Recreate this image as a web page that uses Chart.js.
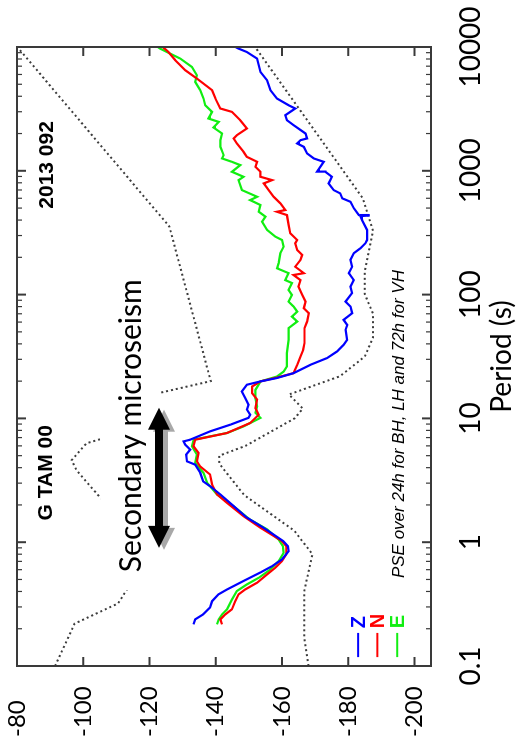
<!DOCTYPE html>
<html>
<head>
<meta charset="utf-8">
<script src="https://cdn.jsdelivr.net/npm/chart.js@4.4.1/dist/chart.umd.min.js"></script>
<style>
  html, body { margin: 0; padding: 0; background: #fff; overflow: hidden; }
  /* the chart is laid out in its own frame (period across, power down) and turned a quarter turn */
  #wrap { position: absolute; left: 0; top: 0; width: 749px; height: 521px;
          transform-origin: 0 0; transform: translate(0, 749px) rotate(-90deg); }
</style>
</head>
<body>
<div id="wrap"><canvas id="psd" width="749" height="521"></canvas></div>
<script>
// tick values
const periodTicks = [0.1, 1, 10, 100, 1000, 10000];
const periodLabels = ['0.1', '1', '10', '100', '1000', '10000'];
const powerTicks = [-80, -100, -120, -140, -160, -180, -200];

// Z component
const zPeriod = [0.217, 0.238, 0.261, 0.297, 0.334, 0.379, 0.415, 0.485, 0.570, 0.640,
  0.725, 0.846, 0.928, 1.02, 1.31, 1.58, 2.01, 2.43, 2.83, 3.10,
  3.65, 4.23, 4.50, 5.10, 5.59, 6.14, 6.52, 6.73, 7.86, 8.90,
  10.1, 10.7, 11.8, 12.9, 14.6, 16.5, 18.7, 19.9, 21.2, 23.2,
  27.1, 30.7, 34.7, 39.3, 43.1, 51.9, 56.9, 62.5, 70.8, 80.0,
  87.8, 103, 116, 131, 149, 168, 191, 216, 237, 260,
  276, 333, 400, 431, 435, 439, 498, 562, 599, 657,
  699, 791, 895, 982, 985, 1182, 1259, 1381, 1561, 1663,
  1768, 1825, 2002, 2336, 2564, 2813, 3186, 3386, 3836, 4476,
  5387, 6287, 8063, 9115, 9708, 10000];
const zPower = [-133.3, -133.8, -136.2, -138.3, -138.9, -140.8, -143.4, -148.3, -153.5, -157.0,
  -160.0, -162.0, -161.8, -160.4, -154.4, -149.4, -144.9, -141.4, -138.3, -136.2,
  -135.3, -133.8, -131.3, -131.1, -132.3, -130.8, -130.3, -132.3, -138.3, -144.4,
  -149.9, -150.4, -149.4, -149.9, -148.9, -147.9, -149.4, -153.5, -158.5, -163.5,
  -168.6, -173.6, -176.6, -178.6, -179.7, -179.2, -179.7, -178.6, -181.2, -180.7,
  -179.2, -181.2, -180.7, -181.7, -180.2, -181.2, -180.7, -181.7, -183.7, -185.2,
  -185.7, -185.7, -184.2, -183.7, -186.2, -183.2, -181.7, -180.7, -178.2, -177.6,
  -175.6, -174.1, -175.1, -173.1, -170.6, -172.6, -169.6, -167.6, -166.6, -164.6,
  -165.6, -167.6, -167.1, -163.5, -161.5, -161.0, -164.0, -162.0, -158.5, -156.5,
  -155.5, -153.5, -152.5, -149.4, -146.9, -146.0];

// N component
const nPeriod = [0.217, 0.238, 0.261, 0.287, 0.334, 0.379, 0.415, 0.471, 0.549, 0.622,
  0.703, 0.796, 0.928, 1.02, 1.31, 1.62, 2.08, 2.43, 2.92, 3.52,
  4.10, 4.50, 5.26, 5.95, 6.73, 7.62, 9.18, 10.7, 12.1, 14.2,
  16.0, 18.1, 19.9, 21.4, 23.2, 27.1, 31.6, 35.8, 40.6, 53.6,
  60.6, 70.8, 77.7, 87.8, 99.4, 116, 131, 144, 149, 168,
  191, 209, 229, 260, 276, 313, 365, 439, 467, 482,
  546, 617, 699, 791, 841, 895, 982, 1077, 1182, 1297,
  1423, 1663, 1825, 1941, 2198, 2564, 2991, 3186, 3836, 4476,
  5561, 6489, 7811, 9115, 10000];
const nPower = [-141.9, -141.4, -142.9, -144.9, -145.9, -146.9, -148.9, -152.5, -155.5, -158.0,
  -160.0, -161.3, -161.3, -160.0, -153.5, -148.4, -143.4, -140.4, -138.9, -138.3,
  -135.3, -134.3, -134.8, -133.3, -133.8, -143.4, -150.4, -153.0, -152.0, -152.5,
  -151.0, -151.0, -153.5, -158.5, -163.5, -164.6, -165.6, -166.4, -166.8, -166.8,
  -167.6, -168.1, -166.6, -167.1, -166.1, -165.0, -165.6, -163.5, -166.6, -164.0,
  -165.6, -166.1, -164.6, -164.0, -164.6, -162.5, -162.0, -161.5, -158.5, -161.0,
  -159.5, -157.5, -156.0, -154.5, -157.0, -153.5, -153.5, -152.0, -152.5, -149.4,
  -148.4, -146.4, -145.4, -146.4, -149.4, -147.4, -144.9, -141.4, -139.9, -138.9,
  -134.3, -130.8, -127.8, -125.7, -124.0];

// E component
const ePeriod = [0.217, 0.238, 0.261, 0.287, 0.345, 0.403, 0.456, 0.516, 0.602, 0.703,
  0.821, 0.928, 1.05, 1.27, 1.52, 1.95, 2.43, 3.01, 3.63, 4.37,
  5.10, 5.95, 6.73, 7.62, 8.62, 10.1, 11.1, 12.5, 14.6, 17.0,
  19.9, 21.8, 23.9, 26.3, 33.7, 43.1, 53.6, 60.6, 66.4, 72.9,
  80.0, 87.8, 99.4, 109, 124, 131, 149, 163, 179, 216,
  244, 276, 294, 333, 388, 426, 467, 529, 580, 617,
  699, 841, 895, 982, 1112, 1182, 1259, 1338, 1561, 1768,
  2002, 2239, 2484, 2646, 2991, 3386, 3836, 4476, 5220, 5912,
  6898, 8063, 9708, 10000];
const ePower = [-140.4, -140.9, -141.9, -143.4, -144.9, -146.4, -149.4, -153.0, -156.5, -159.0,
  -160.5, -160.3, -159.0, -155.5, -150.4, -145.4, -140.4, -137.4, -136.3, -133.8,
  -134.3, -132.8, -133.3, -143.4, -148.4, -153.5, -152.0, -152.5, -152.0, -152.0,
  -153.5, -158.5, -160.5, -161.5, -161.5, -162.0, -162.0, -164.6, -163.0, -164.6,
  -163.5, -162.0, -163.0, -162.0, -163.0, -161.0, -162.0, -158.5, -159.0, -159.5,
  -160.5, -160.0, -158.0, -155.5, -154.0, -155.0, -153.0, -153.5, -150.4, -152.5,
  -147.9, -146.9, -148.4, -144.9, -147.4, -144.9, -141.9, -142.4, -141.4, -141.4,
  -141.9, -139.3, -140.9, -137.8, -138.9, -136.8, -136.3, -135.3, -133.8, -134.3,
  -132.8, -129.3, -123.2, -122.5];

// high and low noise models (dotted)
const nhnmPeriod = [0.1, 0.22, 0.32, 0.8, 3.8, 4.6, 6.3, 7.9, 15.4, 20, 354.8, 10000];
const nhnmPower = [-91.5, -97.4, -110.5, -120.0, -98.0, -96.5, -101.0, -113.5, -120.0, -138.5, -126.0, -80.1];
const nlnmPeriod = [0.1, 0.17, 0.4, 0.8, 1.24, 2.4, 4.3, 5, 6, 10,
  12, 15.6, 21.9, 31.6, 45, 70, 101, 154, 328, 600, 10000];
const nlnmPower = [-168.0, -166.7, -166.7, -169.2, -163.7, -148.6, -141.1, -141.1, -149.0, -163.8,
  -166.3, -162.1, -177.5, -185.0, -187.5, -187.5, -185.0, -185.0, -187.5, -184.4, -151.9];

const components = ['Z', 'N', 'E'];
const compColors = ['#0000ff', '#ff0000', '#11ee11'];

function pts(px, py) {
  return px.map((p, i) => ({ x: p, y: py[i] }));
}

function drawArrow(ctx, x1, x2, yc, color) {
  const hl = 22, hw = 11, sw = 4;
  ctx.fillStyle = color;
  ctx.beginPath();
  ctx.moveTo(x1, yc);
  ctx.lineTo(x1 + hl, yc - hw);
  ctx.lineTo(x1 + hl, yc - sw);
  ctx.lineTo(x2 - hl, yc - sw);
  ctx.lineTo(x2 - hl, yc - hw);
  ctx.lineTo(x2, yc);
  ctx.lineTo(x2 - hl, yc + hw);
  ctx.lineTo(x2 - hl, yc + sw);
  ctx.lineTo(x1 + hl, yc + sw);
  ctx.lineTo(x1 + hl, yc + hw);
  ctx.closePath();
  ctx.fill();
}

// frame, inward ticks, labels and the microseism arrow
const decorations = {
  id: 'decorations',
  afterDatasetsDraw(chart) {
    const { ctx, chartArea: a, scales: { x, y } } = chart;
    ctx.save();

    // white box behind the annotation (covers part of the high noise model)
    const bx1 = x.getPixelForValue(0.41), bx2 = x.getPixelForValue(142);
    const by1 = y.getPixelForValue(-105.1), by2 = y.getPixelForValue(-123.2);
    ctx.fillStyle = '#fff';
    ctx.fillRect(bx1, by1, bx2 - bx1, by2 - by1);

    ctx.fillStyle = '#000';
    ctx.textBaseline = 'alphabetic';
    ctx.textAlign = 'left';
    ctx.font = '30px Lato';
    ctx.fillText('Secondary microseism', x.getPixelForValue(0.573), y.getPixelForValue(-117.3));

    // double arrow with its grey shadow
    const ax1 = x.getPixelForValue(0.9), ax2 = x.getPixelForValue(12.2);
    const ay = y.getPixelForValue(-122.9);
    drawArrow(ctx, ax1 - 2, ax2 - 2, ay + 5, '#a8a8a8');
    drawArrow(ctx, ax1, ax2, ay, '#000');

    ctx.fillStyle = '#000';
    ctx.font = 'bold 21px "Liberation Sans"';
    ctx.fillText('G TAM 00', x.getPixelForValue(1.5), y.getPixelForValue(-90.6));
    ctx.fillText('2013 092', x.getPixelForValue(494), y.getPixelForValue(-90.9));

    ctx.font = 'italic 17px "Liberation Sans"';
    ctx.fillText('PSE over 24h for BH, LH and 72h for VH', x.getPixelForValue(0.513), y.getPixelForValue(-196.7));

    // component key
    const keyDb = [-183.0, -188.8, -194.8];
    ctx.lineWidth = 2;
    ctx.font = 'bold 20px "Liberation Sans"';
    ctx.textBaseline = 'middle';
    components.forEach((c, i) => {
      const ky = y.getPixelForValue(keyDb[i]);
      ctx.strokeStyle = compColors[i];
      ctx.beginPath();
      ctx.moveTo(x.getPixelForValue(0.118), ky);
      ctx.lineTo(x.getPixelForValue(0.185), ky);
      ctx.stroke();
      ctx.fillStyle = compColors[i];
      ctx.fillText(c, x.getPixelForValue(0.202), ky + 1);
    });

    // frame
    ctx.strokeStyle = '#3a3a3a';
    ctx.lineWidth = 2;
    ctx.strokeRect(a.left, a.top, a.right - a.left, a.bottom - a.top);

    // period ticks on both long edges, pointing inward
    periodTicks.slice(0, -1).forEach(d => {
      for (let m = 1; m <= 9; m++) {
        const px = x.getPixelForValue(d * m);
        const len = m === 1 ? 9 : 5;
        ctx.lineWidth = m === 1 ? 2 : 1.2;
        ctx.beginPath();
        ctx.moveTo(px, a.bottom); ctx.lineTo(px, a.bottom - len);
        ctx.moveTo(px, a.top); ctx.lineTo(px, a.top + len);
        ctx.stroke();
      }
    });
    // power ticks
    ctx.lineWidth = 2;
    powerTicks.forEach(v => {
      const py = y.getPixelForValue(v);
      ctx.beginPath();
      ctx.moveTo(a.left, py); ctx.lineTo(a.left + 9, py);
      ctx.moveTo(a.right, py); ctx.lineTo(a.right - 9, py);
      ctx.stroke();
    });
    ctx.restore();
  }
};

const zData = pts(zPeriod, zPower);
const nData = pts(nPeriod, nPower);
const eData = pts(ePeriod, ePower);

new Chart(document.getElementById('psd'), {
  type: 'line',
  data: {
    datasets: [
      { label: 'Z', data: zData, borderColor: compColors[0], borderWidth: 2.2 },
      { label: 'N', data: nData, borderColor: compColors[1], borderWidth: 2.2 },
      { label: 'E', data: eData, borderColor: compColors[2], borderWidth: 2.2 },
      { label: 'NHNM', data: pts(nhnmPeriod, nhnmPower), borderColor: '#3c3c3c', borderWidth: 2, borderDash: [2, 3] },
      { label: 'NLNM', data: pts(nlnmPeriod, nlnmPower), borderColor: '#3c3c3c', borderWidth: 2, borderDash: [2, 3] }
    ]
  },
  options: {
    responsive: false,
    animation: false,
    devicePixelRatio: 1,
    events: [],
    elements: { point: { radius: 0 }, line: { tension: 0, fill: false } },
    layout: { padding: { top: 17, right: 47, left: 12, bottom: 0 } },
    plugins: { legend: { display: false }, tooltip: { enabled: false } },
    scales: {
      x: {
        type: 'logarithmic',
        min: 0.1,
        max: 10000,
        grid: { display: false, drawTicks: false },
        border: { display: false },
        afterBuildTicks: s => { s.ticks = periodTicks.map(v => ({ value: v })); },
        afterFit: s => { s.height = 90; s.paddingLeft = 0; s.paddingRight = 0; },
        ticks: {
          autoSkip: false,
          maxRotation: 0,
          padding: 23,
          color: '#000',
          font: { family: 'Lato', size: 28 },
          callback: (v, i) => periodLabels[i]
        },
        title: {
          display: true,
          text: 'Period (s)',
          color: '#000',
          font: { family: 'Lato', size: 28 },
          padding: { top: 0, bottom: 2 }
        }
      },
      y: {
        min: -205,
        max: -80,
        grid: { display: false, drawTicks: false },
        border: { display: false },
        afterBuildTicks: s => { s.ticks = powerTicks.map(v => ({ value: v })); },
        afterFit: s => { s.width = 71; s.paddingTop = 0; s.paddingBottom = 0; },
        ticks: {
          crossAlign: 'far',
          padding: 20,
          color: '#000',
          font: { family: 'Lato', size: 24 }
        }
      }
    }
  },
  plugins: [decorations]
});
</script>
</body>
</html>
